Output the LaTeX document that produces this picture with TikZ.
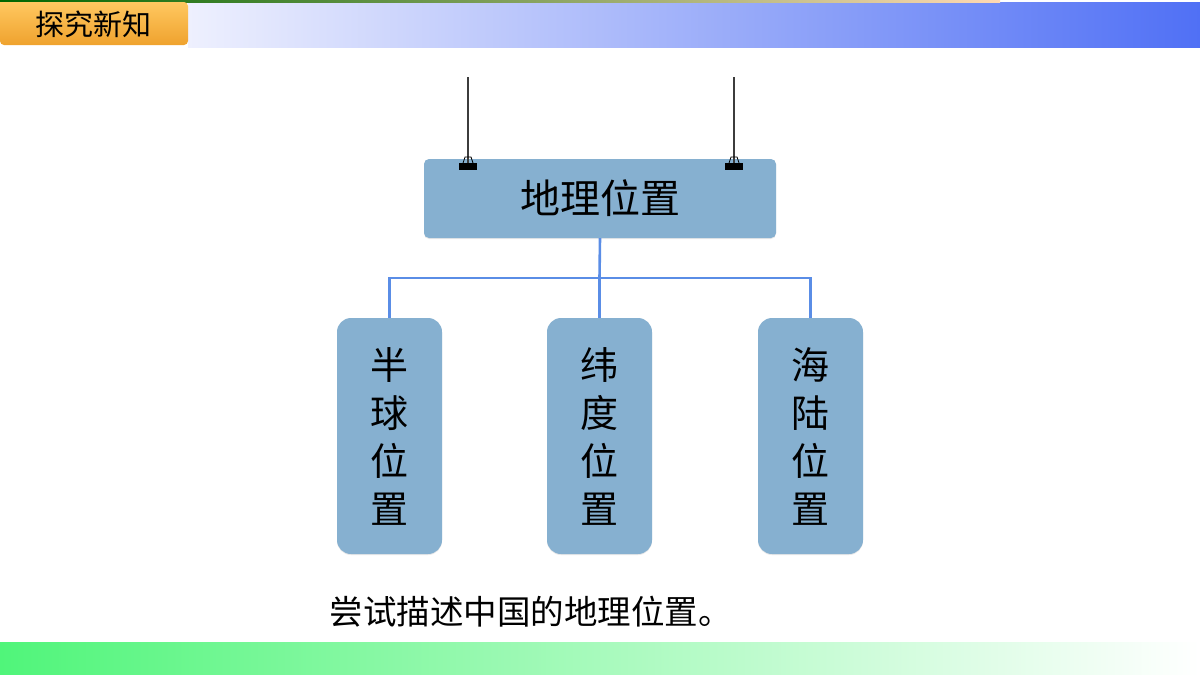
\documentclass[tikz,border=0pt]{standalone}
\usepackage{fontspec}
\setmainfont{Noto Sans CJK SC}
\usetikzlibrary{shadows}
\definecolor{boxblue}{HTML}{86B0D0}
\definecolor{linkblue}{HTML}{5A8DE6}
\definecolor{tabtop}{HTML}{FFC860}
\definecolor{tabbot}{HTML}{EFA22E}
\definecolor{barblue}{HTML}{5070F5}
\definecolor{barpale}{HTML}{EEF0FE}
\definecolor{bargreen}{HTML}{50F57A}
\definecolor{wire}{HTML}{3C3C3C}
\tikzset{
  topic/.style={fill=boxblue, rounded corners=5pt, minimum width=352pt, minimum height=79pt,
    font=\fontsize{40}{42}\selectfont,
    drop shadow={opacity=0.18, shadow xshift=0pt, shadow yshift=-1pt}},
  branch/.style={fill=boxblue, rounded corners=14pt, minimum width=105pt, minimum height=236pt,
    align=center, font=\fontsize{38}{48}\selectfont,
    drop shadow={opacity=0.18, shadow xshift=0pt, shadow yshift=-1pt}},
  link/.style={draw=linkblue, line width=2.6pt},
  hanger/.style={draw=wire, line width=1.1pt},
}
\begin{document}
\begin{tikzpicture}[x=1pt, y=-1pt]
  \useasboundingbox (0,0) rectangle (1200,675);

  % header bar and tab
  \shade[left color=barpale, right color=barblue] (188,2) rectangle (1200,47);
  \shade[left color=green!40!black, right color=orange!30] (0,0) rectangle (1000,2);
  \shade[top color=tabtop, bottom color=tabbot, rounded corners=4pt]
    (0,2) -- (188,2) -- (188,45) -- (0,45) [sharp corners] -- cycle;
  \node (title) at (93,24) {\fontsize{29}{30}\selectfont 探究新知};

  % footer bar
  \shade[left color=bargreen, right color=white] (0,642) rectangle (1200,675);

  % hanging sign
  \coordinate (hookL) at (468,77);
  \coordinate (hookR) at (734,77);
  \node[topic] (geo) at (600,198.5) {地理位置};
  \coordinate (clipL) at (468,165);
  \coordinate (clipR) at (734,165);
  \draw[hanger] (hookL) -- (clipL);
  \draw[hanger] (hookR) -- (clipR);
  \foreach \c in {clipL, clipR} {
    \fill[black] ([xshift=-9pt, yshift=2pt]\c) rectangle ([xshift=9pt, yshift=-5pt]\c);
    \draw[black, line width=0.8pt] ([xshift=-5pt, yshift=2pt]\c) -- ([xshift=-3pt, yshift=8pt]\c)
      -- ([xshift=3pt, yshift=8pt]\c) -- ([xshift=5pt, yshift=2pt]\c);
  }

  % the three branches
  \node[branch] (hemi) at (389.5,436) {半\\球\\位\\置};
  \node[branch] (lat) at (599.5,436) {纬\\度\\位\\置};
  \node[branch] (sea) at (810.5,436) {海\\陆\\位\\置};

  \coordinate (fork) at (599.5,278);
  \draw[link] (geo.south) -- (fork) -- (lat.north);
  \draw[link] (hemi.north) |- (fork) -| (sea.north);

  % task
  \node[anchor=west] (task) at (326,612) {\fontsize{33.5}{35}\selectfont 尝试描述中国的地理位置。};
\end{tikzpicture}
\end{document}
